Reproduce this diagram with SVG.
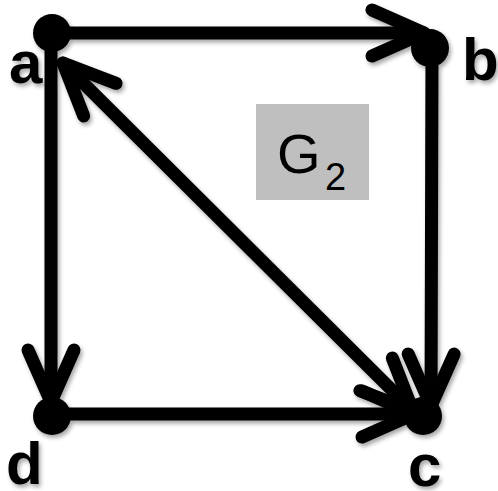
<svg xmlns="http://www.w3.org/2000/svg" width="498" height="491" viewBox="0 0 498 491">
  <style>
    .edge { fill: none; stroke: #000; stroke-width: 13; stroke-linecap: round; }
    .node { fill: #000; }
    .lbl { font-family: "Liberation Sans", Arial, sans-serif; font-weight: bold; font-size: 60px; fill: #000; }
    .g2 { font-family: "Liberation Sans", Arial, sans-serif; fill: #000; }
  </style>
  <defs>
    <filter id="sh" x="-10%" y="-10%" width="120%" height="120%">
      <feDropShadow dx="2" dy="3" stdDeviation="2" flood-color="#000" flood-opacity="0.35"/>
    </filter>
    <marker id="arr" markerUnits="userSpaceOnUse" viewBox="-62 -32 72 64" markerWidth="72" markerHeight="64" refX="0" refY="0" orient="auto-start-reverse" overflow="visible">
      <path d="M-52,-23 L0,0 L-52,23" fill="none" stroke="#000" stroke-width="13" stroke-linecap="round" stroke-linejoin="round"/>
    </marker>
  </defs>
  <rect width="498" height="491" fill="#fff"/>
  <g id="label-G2">
    <rect x="256" y="104" width="113" height="96" fill="#bfbfbf"/>
    <text class="g2" x="277" y="173" font-size="56">G</text>
    <text class="g2" x="325" y="190" font-size="38">2</text>
  </g>
  <g filter="url(#sh)">
    <g id="connectors">
      <line class="edge" x1="52" y1="33" x2="424" y2="33" marker-end="url(#arr)"/>
      <line class="edge" x1="51" y1="33" x2="51" y2="402" marker-end="url(#arr)"/>
      <line class="edge" x1="432" y1="48" x2="431" y2="406" marker-end="url(#arr)"/>
      <line class="edge" x1="52" y1="414" x2="414" y2="414" marker-end="url(#arr)"/>
      <line class="edge" x1="63" y1="63" x2="413" y2="411" marker-start="url(#arr)" marker-end="url(#arr)"/>
    </g>
    <g id="node-a"><circle class="node" cx="52" cy="33" r="19"/><text class="lbl" x="9" y="83">a</text></g>
    <g id="node-b"><circle class="node" cx="430" cy="48" r="19"/><text class="lbl" x="462" y="80">b</text></g>
    <g id="node-c"><circle class="node" cx="423" cy="416" r="19"/><text class="lbl" x="408" y="486">c</text></g>
    <g id="node-d"><circle class="node" cx="52" cy="416" r="19"/><text class="lbl" x="6" y="484">d</text></g>
  </g>
</svg>
